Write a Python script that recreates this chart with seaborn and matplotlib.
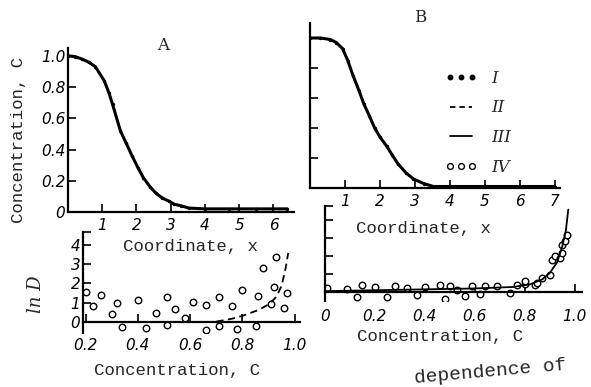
import matplotlib
matplotlib.use("Agg")
import matplotlib.pyplot as plt
import seaborn as sns
from matplotlib.lines import Line2D

# ---------------- data ----------------
# Panel A (top): concentration profile C(x)
a_x = [0.0, 0.2, 0.4, 0.6, 0.8, 1.06, 1.2, 1.3, 1.53, 1.7, 1.87, 2.05, 2.2, 2.4, 2.57, 2.75,
       2.94, 3.1, 3.3, 3.53, 4.0, 4.7, 5.5, 6.4]
a_c = [1.0, 0.995, 0.98, 0.96, 0.93, 0.84, 0.76, 0.69, 0.52, 0.44, 0.36, 0.28, 0.22, 0.16, 0.12,
       0.09, 0.07, 0.05, 0.04, 0.025, 0.02, 0.02, 0.02, 0.02]

# Panel B (top): concentration profile C(x)
b_x = [0.0, 0.3, 0.58, 0.75, 0.93, 1.08, 1.23, 1.4, 1.54, 1.7, 1.85, 2.0, 2.19, 2.35, 2.52, 2.75,
       2.96, 3.25, 3.53, 4.0, 4.95, 5.9, 7.0]
b_c = [1.0, 1.0, 0.99, 0.97, 0.93, 0.85, 0.75, 0.65, 0.56, 0.48, 0.40, 0.34, 0.28, 0.22, 0.16,
       0.10, 0.06, 0.03, 0.01, 0.01, 0.01, 0.01, 0.01]

# Panel A (bottom): ln D vs C, points IV and curve II
a_pts_c = [0.20, 0.26, 0.23, 0.30, 0.32, 0.34, 0.40, 0.43, 0.47, 0.51, 0.51, 0.54, 0.58, 0.61,
           0.66, 0.66, 0.71, 0.71, 0.76, 0.78, 0.80, 0.85, 0.86, 0.88, 0.93, 0.92, 0.91, 0.96, 0.97]
a_pts_lnd = [1.54, 1.40, 0.82, 0.41, 0.95, -0.27, 1.12, -0.36, 0.46, 1.31, -0.18, 0.65, 0.18, 1.01,
             -0.45, 0.87, 1.31, -0.23, 0.82, -0.38, 1.64, -0.23, 1.33, 2.8, 3.4, 1.8, 0.9, 0.73, 1.52]
a_dash_c = [0.70, 0.76, 0.80, 0.86, 0.90, 0.93, 0.95, 0.965, 0.975]
a_dash_lnd = [0.0, 0.15, 0.3, 0.6, 0.9, 1.3, 1.9, 2.8, 3.6]

# Panel B (bottom): ln D vs C, points IV and curve III
b_pts_c = [0.01, 0.09, 0.13, 0.15, 0.20, 0.25, 0.28, 0.33, 0.37, 0.40, 0.46, 0.48, 0.50, 0.53,
           0.56, 0.59, 0.62, 0.64, 0.69, 0.74, 0.77, 0.80, 0.80, 0.84, 0.85, 0.87, 0.90, 0.91,
           0.92, 0.94, 0.95, 0.95, 0.96, 0.97]
b_pts_lnd = [0.2, 0.18, -0.29, 0.38, 0.3, -0.28, 0.32, 0.25, -0.16, 0.27, 0.4, -0.38, 0.31, 0.09,
             -0.21, 0.33, -0.11, 0.32, 0.34, -0.05, 0.4, 0.45, 0.62, 0.39, 0.52, 0.76, 0.94, 1.8,
             2.0, 1.88, 2.2, 2.6, 2.86, 3.16]
b_line_c = [0.0, 0.2, 0.4, 0.6, 0.75, 0.82, 0.87, 0.90, 0.93, 0.95, 0.965, 0.975]
b_line_lnd = [0.05, 0.1, 0.15, 0.2, 0.28, 0.42, 0.7, 1.05, 1.65, 2.5, 3.4, 4.6]

legend_labels = ["I", "II", "III", "IV"]

# ---------------- styling ----------------
sns.set_style("ticks")
plt.rcParams['font.family'] = ['DejaVu Sans']
plt.rcParams['axes.edgecolor'] = 'black'

W, H = 591, 387
fig = plt.figure(figsize=(W / 100, H / 100), dpi=100)
fig.patch.set_facecolor('white')

MONO = 'Liberation Mono'
SERIF = 'DejaVu Serif'


def add_ax(l, t, r, b):
    return fig.add_axes([l / W, 1 - b / H, (r - l) / W, (b - t) / H])


def style(ax, xticks, xlabels, yticks, ylabels, xpad=4, ypad=2):
    for s in ['top', 'right']:
        ax.spines[s].set_visible(False)
    for s in ['left', 'bottom']:
        ax.spines[s].set_linewidth(1.6)
        ax.spines[s].set_color('black')
    ax.set_facecolor('none')
    ax.set_xticks(xticks, labels=xlabels)
    ax.set_yticks(yticks, labels=ylabels)
    ax.tick_params(direction='in', length=6, width=1.2, colors='black', labelsize=11)
    ax.tick_params(axis='x', pad=xpad)
    ax.tick_params(axis='y', pad=ypad)
    for lbl in ax.get_xticklabels() + ax.get_yticklabels():
        lbl.set_fontstyle('italic')
    ax.set_xlabel('')
    ax.set_ylabel('')


# ---- Panel A top ----
ax1 = add_ax(68, 48, 294, 212)
sns.lineplot(x=a_x, y=a_c, ax=ax1, color='black', linewidth=2.2)
sns.scatterplot(x=a_x, y=a_c, ax=ax1, color='black', s=6, linewidth=0)
ax1.set_xlim(0, 6.6)
ax1.set_ylim(0, 1.05)
style(ax1, [1, 2, 3, 4, 5, 6], ['1', '2', '3', '4', '5', '6'],
      [0, 0.2, 0.4, 0.6, 0.8, 1.0], ['0', '0.2', '0.4', '0.6', '0.8', '1.0'])

# ---- Panel B top ----
ax2 = add_ax(310, 23, 560, 188)
sns.lineplot(x=b_x, y=b_c, ax=ax2, color='black', linewidth=2.2)
sns.scatterplot(x=b_x, y=b_c, ax=ax2, color='black', s=6, linewidth=0)
ax2.set_xlim(0, 7.15)
ax2.set_ylim(0, 1.1)
style(ax2, [1, 2, 3, 4, 5, 6, 7], ['1', '2', '3', '4', '5', '6', '7'],
      [0.2, 0.4, 0.6, 0.8, 1.0], [''] * 5)

handles = [
    Line2D([], [], ls='none', marker='o', ms=3.2, color='black'),
    Line2D([], [], ls=(0, (3, 2.2)), color='black', lw=1.3),
    Line2D([], [], ls='-', color='black', lw=1.3),
    Line2D([], [], ls='none', marker='o', ms=4.2, mfc='white', mec='black', mew=1.0),
]
ax2.legend(handles, legend_labels, loc='upper left', bbox_to_anchor=(430 / W, 1 - 55 / H),
           bbox_transform=fig.transFigure, frameon=False, numpoints=3, handlelength=1.9,
           handletextpad=0.9, labelspacing=0.75,
           prop={'family': SERIF, 'style': 'italic', 'size': 12})

# ---- Panel A bottom ----
ax3 = add_ax(83, 232, 300, 333)
sns.lineplot(x=a_dash_c, y=a_dash_lnd, ax=ax3, color='black', linewidth=1.3,
             linestyle=(0, (4, 2.5)))
sns.scatterplot(x=a_pts_c, y=a_pts_lnd, ax=ax3, s=22, facecolor='white',
                edgecolor='black', linewidth=1.0)
ax3.set_xlim(0.19, 1.02)
ax3.set_ylim(-0.6, 4.7)
ax3.spines['bottom'].set_position(('data', 0))
style(ax3, [0.2, 0.4, 0.6, 0.8, 1.0], ['0.2', '0.4', '0.6', '0.8', '1.0'],
      [0, 1, 2, 3, 4, 4.7], ['0', '1', '2', '3', '4', ''], xpad=12)

# ---- Panel B bottom ----
ax4 = add_ax(325, 206, 582, 301)
sns.lineplot(x=b_line_c, y=b_line_lnd, ax=ax4, color='black', linewidth=1.3)
sns.scatterplot(x=b_pts_c, y=b_pts_lnd, ax=ax4, s=22, facecolor='white',
                edgecolor='black', linewidth=1.0)
ax4.set_xlim(0, 1.03)
ax4.set_ylim(-0.5, 4.8)
ax4.spines['bottom'].set_position(('data', 0))
style(ax4, [0, 0.2, 0.4, 0.6, 0.8, 1.0], ['0', '0.2', '0.4', '0.6', '0.8', '1.0'],
      [1, 2, 3, 4, 4.8], [''] * 5, xpad=12)

# ---------------- texts ----------------
def ftext(x, y, s, **kw):
    fig.text(x / W, 1 - y / H, s, ha='center', va='center', **kw)


ftext(163, 45, 'A', family=SERIF, size=12)
ftext(420, 17, 'B', family=SERIF, size=12)
ftext(19, 140, 'Concentration, C', rotation=90, family=MONO, size=12.5)
ftext(36, 294, 'ln D', rotation=90, family=SERIF, style='italic', size=13)
ftext(190, 247, 'Coordinate, x', family=MONO, size=12.5)
ftext(423, 228, 'Coordinate, x', family=MONO, size=12.5)
ftext(177, 370, 'Concentration, C', family=MONO, size=12.5)
ftext(440, 337, 'Concentration, C', family=MONO, size=12.5)
ftext(490, 372, 'dependence of', rotation=5, family=MONO, size=14)

fig.savefig('out.png', dpi=100, facecolor='white')
